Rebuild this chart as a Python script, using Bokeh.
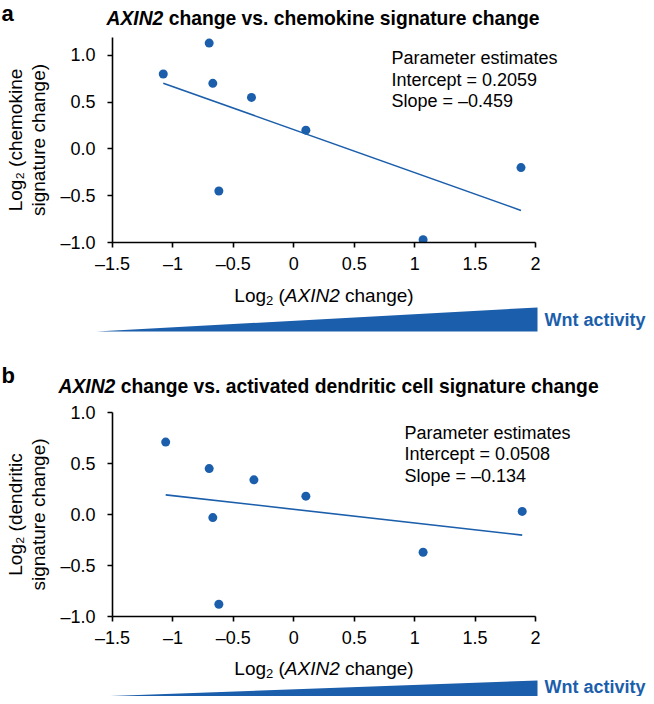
import numpy as np
from bokeh.plotting import figure
from bokeh.models import Range1d, FixedTicker
from bokeh.core.properties import value
from bokeh.layouts import column
from bokeh.embed import file_html
from bokeh.resources import INLINE

# ---------------- data ----------------
axin2_a = [-1.08, -0.70, -0.67, -0.35, 0.10, -0.62, 1.07, 1.88]
chemokine = [0.80, 1.13, 0.70, 0.55, 0.20, -0.45, -0.97, -0.20]
intercept_a, slope_a = 0.2059, -0.459

axin2_b = [-1.06, -0.70, -0.33, 0.10, -0.67, -0.62, 1.07, 1.89]
dendritic = [0.71, 0.45, 0.34, 0.18, -0.03, -0.88, -0.37, 0.03]
intercept_b, slope_b = 0.0508, -0.134

x_ticks = [-1.5, -1, -0.5, 0, 0.5, 1, 1.5, 2]
x_tick_labels = ["\u20131.5", "\u20131", "\u20130.5", "0", "0.5", "1", "1.5", "2"]
y_ticks = [-1, -0.5, 0, 0.5, 1]
y_tick_labels = ["\u20131.0", "\u20130.5", "0.0", "0.5", "1.0"]

BLUE = "#1b5eab"
FONT = "Liberation Sans"
W = 646
FL, FR = 112, 535  # pixel positions of x = -1.5 and x = 2

# Arial / Liberation Sans advance widths (em)
REG = {'L': .556, 'o': .556, 'g': .556, ' ': .278, '(': .333}
ITAL = {'A': .667, 'X': .667, 'I': .278, 'N': .722, '2': .556, ' ': .278}
BOLDI = {'A': .722, 'X': .667, 'I': .278, 'N': .722, '2': .556, ' ': .278}


def tw(s, table, size):
    return sum(table[c] for c in s) * size


def make_panel(H, top, frame_h, ymax, page_top, xs, ys, inter, slope, ylab,
               letter, letter_mid, title_x, title_mid, title_rest,
               params, param_x, param_mids, xlab_mid, wedge_top, wedge_bot, wnt_mid):
    xmax = -1.5 + 3.5 * (W - FL) / (FR - FL)
    p = figure(width=W, height=H, x_range=Range1d(-1.5, xmax), y_range=Range1d(-1, ymax),
               output_backend="svg", toolbar_location=None, title=None,
               min_border_left=FL, min_border_right=0,
               min_border_top=top, min_border_bottom=H - top - frame_h)
    p.outline_line_color = None
    p.grid.visible = False
    for ax in (p.xaxis[0], p.yaxis[0]):
        ax.axis_line_width = 1.6
        ax.axis_line_color = "black"
        ax.major_tick_line_width = 1.6
        ax.major_tick_line_color = "black"
        ax.major_tick_out = 5
        ax.major_tick_in = 0
        ax.minor_tick_out = 0
        ax.minor_tick_in = 0
        ax.major_label_text_font = FONT
        ax.major_label_text_font_size = "18px"
        ax.major_label_text_color = "black"
    p.xaxis.axis_label = None
    p.xaxis.bounds = (-1.5, 2)
    p.xaxis.ticker = FixedTicker(ticks=x_ticks)
    p.xaxis.major_label_overrides = {t: l for t, l in zip(x_ticks, x_tick_labels)}
    p.yaxis.ticker = FixedTicker(ticks=y_ticks)
    p.yaxis.major_label_overrides = {t: l for t, l in zip(y_ticks, y_tick_labels)}
    p.xaxis.major_label_standoff = 6
    p.yaxis.major_label_standoff = 12
    p.yaxis.axis_label = ylab
    p.yaxis.axis_label_text_font = FONT
    p.yaxis.axis_label_text_font_size = "19px"
    p.yaxis.axis_label_text_font_style = "normal"
    p.yaxis.axis_label_text_color = "black"
    p.yaxis.axis_label_text_line_height = 1.1
    p.yaxis.axis_label_standoff = 8

    # data marks
    p.scatter(xs, ys, size=9, color=BLUE, line_color=None)
    lx = np.array([min(xs), max(xs)])
    p.line(lx, inter + slope * lx, line_color=BLUE, line_width=1.6)

    # page-pixel -> data helpers (placement of decorations only)
    f_top = page_top + top

    def X(px):
        return -1.5 + (px - FL) * 3.5 / (FR - FL)

    def Y(py):
        return ymax - (py - f_top) * (ymax + 1) / frame_h

    def txt(px, py, text, size, style="normal", color="black"):
        p.text(x=[X(px)], y=[Y(py)], text=[text], text_font=value(FONT),
               text_font_size=value(size), text_font_style=style, text_color=color,
               text_align="left", text_baseline="middle", level="overlay")

    # panel letter and title
    txt(1, letter_mid, letter, "22px", "bold")
    txt(title_x, title_mid, "AXIN2", "19.3px", "bold italic")
    txt(title_x + tw("AXIN2 ", BOLDI, 19.3), title_mid, title_rest, "19.3px", "bold")

    # parameter estimates
    for t, m in zip(params, param_mids):
        txt(param_x, m, t, "18px")

    # x label: Log2 (AXIN2 change)
    pieces = [("Log", 19, "normal", 0, tw("Log", REG, 19)),
              ("2", 13, "normal", 5, tw("2", ITAL, 13) + tw(" ", REG, 19)),
              ("(", 19, "normal", 0, tw("(", REG, 19)),
              ("AXIN2", 19, "italic", 0, tw("AXIN2 ", ITAL, 19)),
              ("change)", 19, "normal", 0, 0)]
    total = sum(w for *_, w in pieces) + 19 * (0.5 + 0.556 * 5 + 0.333)
    x0 = (FL + FR) / 2 - total / 2
    for t, sz, st, dy, w in pieces:
        txt(x0, xlab_mid + dy, t, f"{sz}px", st)
        x0 += w

    # Wnt activity wedge
    p.patch([X(96), X(537), X(537)], [Y(wedge_bot), Y(wedge_top), Y(wedge_bot)],
            fill_color=BLUE, line_color=None, level="overlay")
    txt(544, wnt_mid, "Wnt activity", "18px", "bold", BLUE)
    return p


pa = make_panel(342, 37, 205, 1.19, 0, axin2_a, chemokine, intercept_a, slope_a,
                "Log\u2082 (chemokine\nsignature change)",
                "a", 13, 106, 17.5, "change vs. chemokine signature change",
                ["Parameter estimates", "Intercept = 0.2059", "Slope = \u20130.459"],
                391, [57, 79, 100], 295, 307, 331, 319)

pb = make_panel(354, 70, 204, 1.0, 342, axin2_b, dendritic, intercept_b, slope_b,
                "Log\u2082 (dendritic\nsignature change)",
                "b", 375, 58, 385.5,
                "change vs. activated dendritic cell signature change",
                ["Parameter estimates", "Intercept = 0.0508", "Slope = \u20130.134"],
                404, [432, 453, 475], 667.5, 680, 696, 686)

layout = column(pa, pb, spacing=0)
open("out.html", "w").write(file_html(layout, INLINE))
